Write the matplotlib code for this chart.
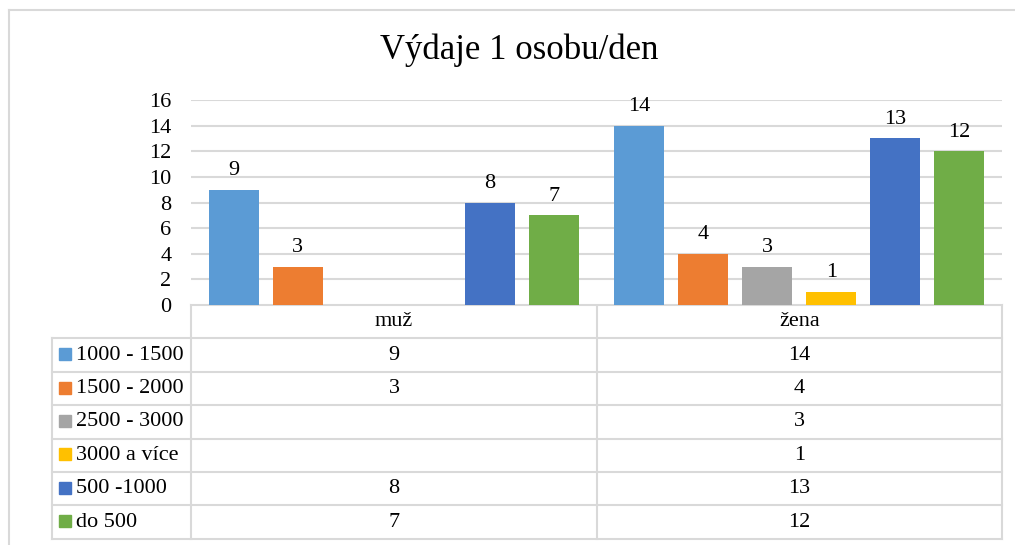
import numpy as np
import matplotlib
matplotlib.use('Agg')
import matplotlib.pyplot as plt
from matplotlib.patches import Rectangle

plt.rcParams['font.family'] = ['Liberation Serif', 'DejaVu Serif']

# data
title = 'Výdaje 1 osobu/den'
categories = ['muž', 'žena']
series = ['1000 - 1500', '1500 - 2000', '2500 - 3000', '3000 a více', '500 -1000', 'do 500']
values = [
    [9, 14],
    [3, 4],
    [np.nan, 3],
    [np.nan, 1],
    [8, 13],
    [7, 12],
]
colors = ['#5B9BD5', '#ED7D31', '#A5A5A5', '#FFC000', '#4472C4', '#70AD47']
yticks = [0, 2, 4, 6, 8, 10, 12, 14, 16]

W, H = 1015, 545
grid_col = '#d9d9d9'
fig = plt.figure(figsize=(W / 100, H / 100), dpi=100)

# overlay in pixel coords for border and table
tab = fig.add_axes([0, 0, 1, 1], zorder=-1)
tab.set_xlim(0, W)
tab.set_ylim(H, 0)
tab.axis('off')

# outer chart border (cropped on right/bottom)
tab.plot([9, W], [10, 10], color=grid_col, lw=1.5)
tab.plot([9, 9], [10, H], color=grid_col, lw=1.5)

tab.text(519, 50, title, fontsize=25, ha='center', va='center')

# chart
left, right, top, bottom = 191, 1002, 100, 305
ax = fig.add_axes([left / W, 1 - bottom / H, (right - left) / W, (bottom - top) / H])
ax.set_xlim(-0.5, len(categories) - 0.5)
ax.set_ylim(0, 16)
ax.set_yticks(yticks)
ax.set_xticks([])
for s in ax.spines.values():
    s.set_visible(False)
ax.yaxis.grid(True, color=grid_col, lw=1.5)
ax.set_axisbelow(True)
ax.tick_params(axis='y', length=0, pad=14, labelsize=16)

x = np.arange(len(categories))
slot = 0.158
width = 0.123
for i, (name, vals, c) in enumerate(zip(series, values, colors)):
    bars = ax.bar(x + (i - 2.5) * slot, vals, width, color=c)
    labels = ['' if np.isnan(v) else f'{int(v)}' for v in vals]
    ax.bar_label(bars, labels=labels, padding=7, fontsize=16)

# data table
row_h = 33.4
col_edges = [52, 191, 597, 1002]
tab.plot([col_edges[1], col_edges[3]], [bottom, bottom], color=grid_col, lw=1.5)
for r in range(len(series) + 1):
    y = bottom + row_h * (r + 1)
    tab.plot([col_edges[0], col_edges[3]], [y, y], color=grid_col, lw=1.5)
y_end = bottom + row_h * (len(series) + 1)
tab.plot([col_edges[0], col_edges[0]], [bottom + row_h, y_end], color=grid_col, lw=1.5)
for xe in col_edges[1:]:
    tab.plot([xe, xe], [bottom, y_end], color=grid_col, lw=1.5)

col_centers = [(col_edges[j + 1] + col_edges[j + 2]) / 2 for j in range(len(categories))]
for j, cat in enumerate(categories):
    tab.text(col_centers[j], bottom + row_h / 2, cat, fontsize=16, ha='center', va='center')

for r, (name, vals, c) in enumerate(zip(series, values, colors)):
    yc = bottom + row_h * (r + 1.5)
    tab.add_patch(Rectangle((59, yc - 7), 12, 12, color=c))
    tab.text(76, yc, name, fontsize=16, ha='left', va='center')
    for j, v in enumerate(vals):
        if not np.isnan(v):
            tab.text(col_centers[j], yc, f'{int(v)}', fontsize=16, ha='center', va='center')

fig.savefig('out.png', dpi=100)
